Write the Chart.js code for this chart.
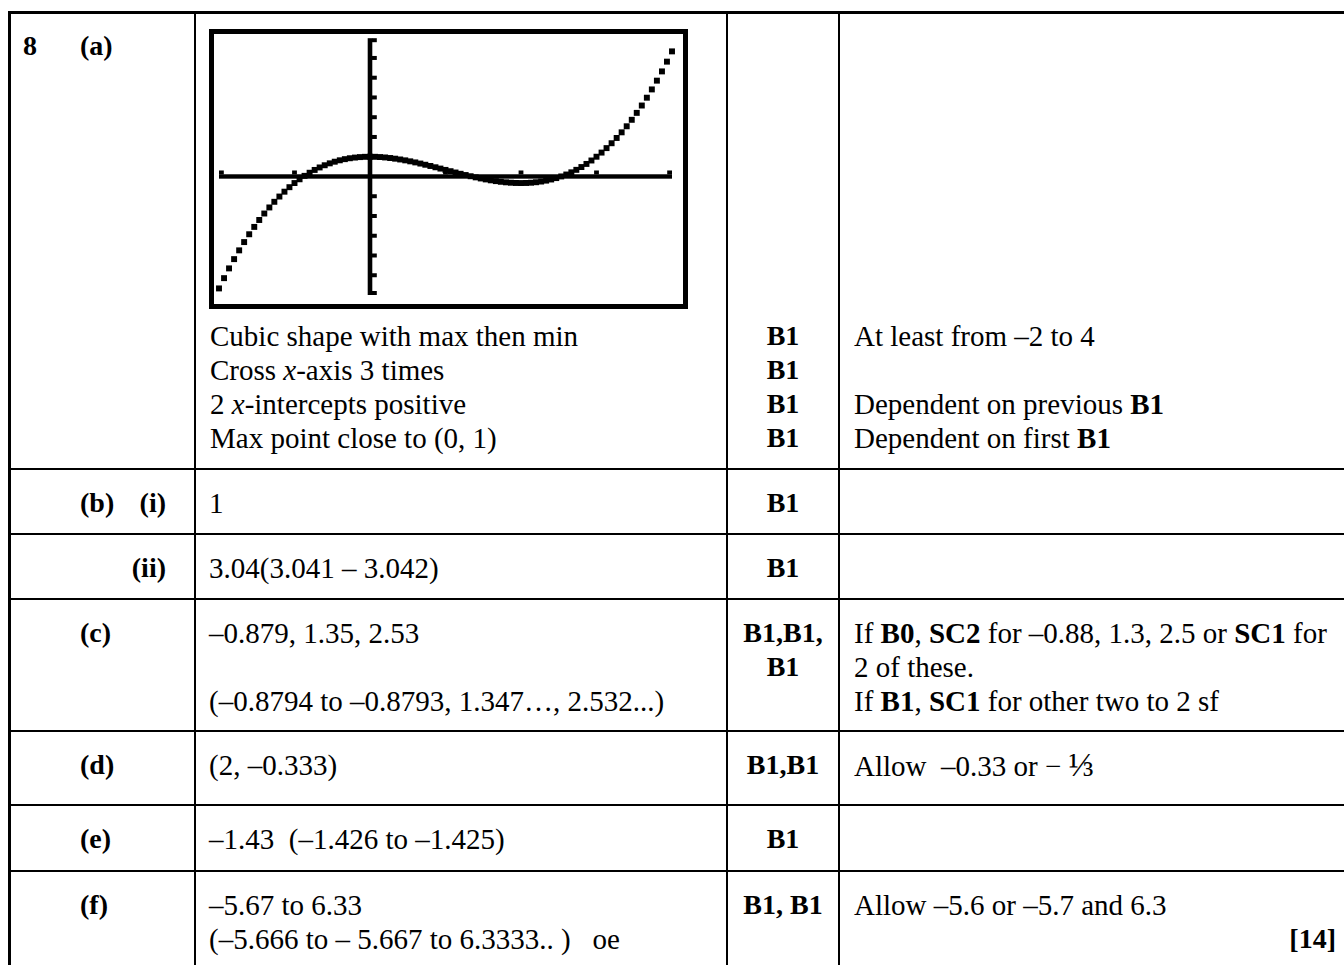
<!DOCTYPE html>
<html>
<head>
<meta charset="utf-8">
<script src="https://cdn.jsdelivr.net/npm/chart.js@4.4.1/dist/chart.umd.min.js"></script>
<style>
  html, body { margin:0; padding:0; background:#fff; }
  body { width:1344px; height:965px; overflow:hidden; position:relative;
         font-family:"Liberation Serif","Times New Roman",serif; color:#000; }
  .h { position:absolute; height:2px; background:#000; left:8px; width:1400px; }
  .v { position:absolute; width:2px; background:#000; top:11px; height:1000px; }
  .t { position:absolute; font-size:29px; line-height:34px; white-space:nowrap; }
  .lb { position:absolute; font-size:28px; line-height:34px; font-weight:bold; white-space:nowrap; }
  .mk { position:absolute; left:727px; width:112px; text-align:center; font-size:28px; line-height:34px; font-weight:bold; white-space:nowrap; }
  b { font-weight:bold; }
  #calc { position:absolute; left:209px; top:29px; width:469px; height:270px; border:5px solid #000; background:#fff; }
  #calc canvas { display:block; }
</style>
</head>
<body>
<!-- table rules -->
<div class="h" style="top:11px;height:3px;"></div>
<div class="v" style="left:8px;width:3px;"></div>
<div class="v" style="left:194px;"></div>
<div class="v" style="left:726px;"></div>
<div class="v" style="left:838px;"></div>
<div class="h" style="top:468px;"></div>
<div class="h" style="top:533px;"></div>
<div class="h" style="top:598px;"></div>
<div class="h" style="top:730px;"></div>
<div class="h" style="top:804px;"></div>
<div class="h" style="top:870px;"></div>

<!-- row (a) -->
<div class="lb" style="left:23px;top:29px;">8</div>
<div class="lb" style="left:80px;top:29px;">(a)</div>
<div id="calc"><canvas id="c" width="469" height="270"></canvas></div>
<div class="t" style="left:210px;top:319px;">Cubic shape with max then min</div>
<div class="t" style="left:210px;top:353px;">Cross <i>x</i>-axis 3 times</div>
<div class="t" style="left:210px;top:387px;">2 <i>x</i>-intercepts positive</div>
<div class="t" style="left:210px;top:421px;">Max point close to (0, 1)</div>
<div class="mk" style="top:319px;">B1</div>
<div class="mk" style="top:353px;">B1</div>
<div class="mk" style="top:387px;">B1</div>
<div class="mk" style="top:421px;">B1</div>
<div class="t" style="left:854px;top:319px;">At least from –2 to 4</div>
<div class="t" style="left:854px;top:387px;">Dependent on previous <b>B1</b></div>
<div class="t" style="left:854px;top:421px;">Dependent on first <b>B1</b></div>

<!-- row (b)(i) -->
<div class="lb" style="left:80px;top:486px;">(b)</div>
<div class="lb" style="left:106px;width:60px;text-align:right;top:486px;">(i)</div>
<div class="t" style="left:209px;top:486px;">1</div>
<div class="mk" style="top:486px;">B1</div>

<!-- row (ii) -->
<div class="lb" style="left:106px;width:60px;text-align:right;top:551px;">(ii)</div>
<div class="t" style="left:209px;top:551px;">3.04(3.041 – 3.042)</div>
<div class="mk" style="top:551px;">B1</div>

<!-- row (c) -->
<div class="lb" style="left:80px;top:616px;">(c)</div>
<div class="t" style="left:209px;top:616px;">–0.879, 1.35, 2.53</div>
<div class="t" style="left:209px;top:684px;">(–0.8794 to –0.8793, 1.347…, 2.532...)</div>
<div class="mk" style="top:616px;">B1,B1,</div>
<div class="mk" style="top:650px;">B1</div>
<div class="t" style="left:854px;top:616px;">If <b>B0</b>, <b>SC2</b> for –0.88, 1.3, 2.5 or <b>SC1</b> for</div>
<div class="t" style="left:854px;top:650px;">2 of these.</div>
<div class="t" style="left:854px;top:684px;">If <b>B1</b>, <b>SC1</b> for other two to 2 sf</div>

<!-- row (d) -->
<div class="lb" style="left:80px;top:748px;">(d)</div>
<div class="t" style="left:209px;top:748px;">(2, –0.333)</div>
<div class="mk" style="top:748px;">B1,B1</div>
<div class="t" style="left:854px;top:748px;">Allow&nbsp; –0.33 or &minus; <span style="font-size:34px;">⅓</span></div>

<!-- row (e) -->
<div class="lb" style="left:80px;top:822px;">(e)</div>
<div class="t" style="left:209px;top:822px;">–1.43&nbsp; (–1.426 to –1.425)</div>
<div class="mk" style="top:822px;">B1</div>

<!-- row (f) -->
<div class="lb" style="left:80px;top:888px;">(f)</div>
<div class="t" style="left:209px;top:888px;">–5.67 to 6.33</div>
<div class="t" style="left:209px;top:922px;">(–5.666 to – 5.667 to 6.3333.. )&nbsp;&nbsp; oe</div>
<div class="mk" style="top:888px;">B1, B1</div>
<div class="t" style="left:854px;top:888px;">Allow –5.6 or –5.7 and 6.3</div>
<div class="lb" style="left:1236px;width:100px;text-align:right;top:922px;">[14]</div>

<script>
// Calculator window and curve values
const xTicks = [-2, -1, 1, 2, 3, 4];
const yTicks = [-6, -5, -4, -3, -2, -1, 1, 2, 3, 4, 5, 6, 7];
const xValues = [
  -2.000, -1.933, -1.867, -1.800, -1.733, -1.667, -1.600, -1.533, -1.467, -1.400,
  -1.333, -1.267, -1.200, -1.133, -1.067, -1.000, -0.933, -0.867, -0.800, -0.733,
  -0.667, -0.600, -0.533, -0.467, -0.400, -0.333, -0.267, -0.200, -0.133, -0.067,
   0.000,  0.067,  0.133,  0.200,  0.267,  0.333,  0.400,  0.467,  0.533,  0.600,
   0.667,  0.733,  0.800,  0.867,  0.933,  1.000,  1.067,  1.133,  1.200,  1.267,
   1.333,  1.400,  1.467,  1.533,  1.600,  1.667,  1.733,  1.800,  1.867,  1.933,
   2.000,  2.067,  2.133,  2.200,  2.267,  2.333,  2.400,  2.467,  2.533,  2.600,
   2.667,  2.733,  2.800,  2.867,  2.933,  3.000,  3.067,  3.133,  3.200,  3.267,
   3.333,  3.400,  3.467,  3.533,  3.600,  3.667,  3.733,  3.800,  3.867,  3.933,
   4.000
];
const yValues = [
  -5.667, -5.147, -4.653, -4.184, -3.740, -3.321, -2.925, -2.553, -2.203, -1.875,
  -1.568, -1.282, -1.016, -0.770, -0.542, -0.333, -0.142,  0.032,  0.189,  0.331,
   0.457,  0.568,  0.665,  0.748,  0.819,  0.877,  0.923,  0.957,  0.981,  0.995,
   1.000,  0.996,  0.983,  0.963,  0.935,  0.901,  0.861,  0.816,  0.766,  0.712,
   0.654,  0.594,  0.531,  0.466,  0.400,  0.333,  0.267,  0.201,  0.136,  0.073,
   0.012, -0.045, -0.100, -0.149, -0.195, -0.235, -0.269, -0.296, -0.316, -0.329,
  -0.333, -0.329, -0.315, -0.291, -0.256, -0.210, -0.152, -0.082,  0.002,  0.099,
   0.210,  0.336,  0.477,  0.635,  0.809,  1.000,  1.209,  1.436,  1.683,  1.949,
   2.235,  2.541,  2.869,  3.220,  3.592,  3.988,  4.407,  4.851,  5.319,  5.813,
   6.333
];
const xMin = -2, xMax = 4, yMin = -6, yMax = 7;

const calcAxes = {
  id: 'calcAxes',
  beforeDatasetsDraw(chart) {
    const ctx = chart.ctx, xs = chart.scales.x, ys = chart.scales.y, a = chart.chartArea;
    const x0 = xs.getPixelForValue(0), y0 = ys.getPixelForValue(0);
    ctx.save();
    ctx.fillStyle = '#000';
    // x axis
    ctx.fillRect(xs.getPixelForValue(xMin), y0 - 2.2, xs.getPixelForValue(xMax) - xs.getPixelForValue(xMin), 4.4);
    // y axis
    ctx.fillRect(x0 - 2.3, ys.getPixelForValue(yMax), 4.6, ys.getPixelForValue(yMin) - ys.getPixelForValue(yMax));
    // x ticks (upward)
    xTicks.forEach(t => {
      let p = xs.getPixelForValue(t) - 2.4;
      p = Math.max(a.left, Math.min(a.right - 4.8, p));
      ctx.fillRect(p, y0 - 6, 4.8, 4);
    });
    // y ticks (to the right)
    yTicks.forEach(t => {
      let p = ys.getPixelForValue(t) - 2;
      p = Math.max(a.top, Math.min(a.bottom - 4, p));
      ctx.fillRect(x0 + 2, p, 4.8, 4);
    });
    ctx.restore();
  }
};

new Chart(document.getElementById('c'), {
  type: 'scatter',
  data: {
    datasets: [{
      data: xValues.map((x, i) => ({ x: x, y: yValues[i] })),
      pointStyle: 'rect',
      pointRadius: 4.2,
      pointHoverRadius: 4.2,
      backgroundColor: '#000',
      borderColor: '#000',
      borderWidth: 0,
      showLine: false,
      clip: false
    }]
  },
  options: {
    responsive: false,
    animation: false,
    events: [],
    layout: { padding: { left: 5, right: 11, top: 1, bottom: 9 } },
    plugins: { legend: { display: false }, tooltip: { enabled: false } },
    scales: {
      x: { type: 'linear', min: xMin, max: xMax, display: false },
      y: { type: 'linear', min: yMin, max: yMax, display: false }
    }
  },
  plugins: [calcAxes]
});
</script>
</body>
</html>
